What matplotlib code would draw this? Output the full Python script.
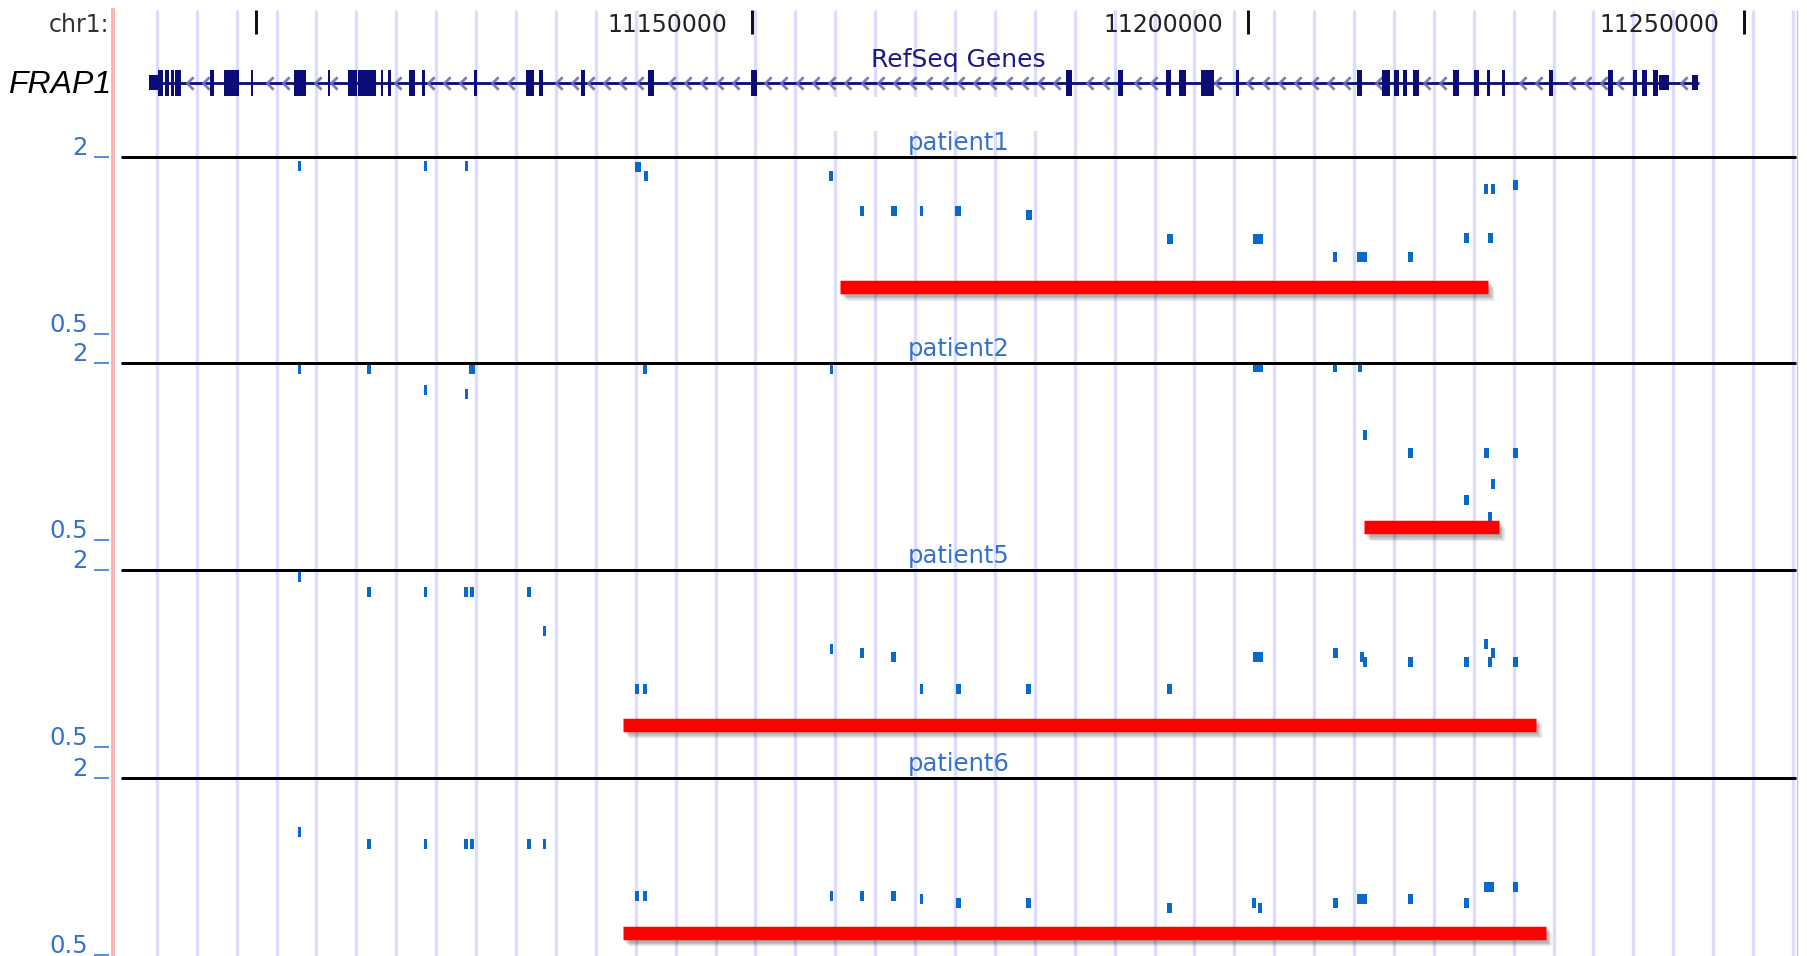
import numpy as np
import matplotlib
matplotlib.use("Agg")
import matplotlib.pyplot as plt
import matplotlib.patheffects as pe
from matplotlib.path import Path
from matplotlib.patches import Rectangle
from matplotlib.transforms import offset_copy

# ---------------- data ----------------
chrom_label = "chr1:"
gene_name = "FRAP1"
gene_track_title = "RefSeq Genes"
tick_positions = [11100000, 11150000, 11200000, 11250000]
tick_labels = ["", "11150000", "11200000", "11250000"]

gene_start, gene_end = 11089164, 11245463
utr_starts = [11089164, 11241481, 11244758]
utr_ends = [11090071, 11242439, 11245362]
exon_starts = [11090121, 11090827, 11091432, 11091785, 11095363, 11096774, 11099446,
               11103831, 11107208, 11109224, 11110282, 11112601, 11113307, 11115424,
               11116734, 11121926, 11127218, 11128528, 11132712, 11139466, 11149899,
               11181703, 11186895, 11191784, 11193044, 11195262, 11198790, 11211038,
               11213558, 11214717, 11215675, 11216683, 11220615, 11222732, 11224143,
               11225655, 11230342, 11236340, 11238860, 11239717, 11240826]
exon_ends = [11090625, 11091180, 11091684, 11092440, 11095716, 11098287, 11099698,
             11104990, 11107510, 11110182, 11112147, 11112803, 11113559, 11115978,
             11116986, 11122228, 11128024, 11128932, 11133115, 11140171, 11150454,
             11182258, 11187349, 11192288, 11193750, 11196572, 11199093, 11211542,
             11214314, 11215272, 11216028, 11217288, 11221270, 11223236, 11224445,
             11225957, 11230746, 11236794, 11239213, 11240221, 11241330]

patients = ["patient1", "patient2", "patient5", "patient6"]
y_top_label, y_bottom_label = "2", "0.5"

p1_pos = [11104400, 11117100, 11121200, 11138500, 11139300, 11158000, 11161100, 11164300,
          11167100, 11170800, 11177900, 11192100, 11201000, 11208800, 11211500, 11216400,
          11222000, 11224000, 11224700, 11224400, 11227000]
p1_val = [1.86, 1.86, 1.86, 1.85, 1.72, 1.72, 1.31, 1.31, 1.31, 1.31, 1.27, 1.05, 1.05,
          0.914, 0.914, 0.914, 1.06, 1.56, 1.56, 1.06, 1.60]
p1_len = [350, 350, 350, 600, 350, 400, 350, 600, 350, 600, 600, 600, 1000, 400, 1000,
          500, 500, 400, 400, 500, 500]

p2_pos = [11104400, 11111400, 11121800, 11139200, 11158000, 11201000, 11208800, 11211300,
          11117100, 11121200, 11211800, 11216400, 11224000, 11227000, 11224700, 11222000,
          11224400]
p2_val = [1.91, 1.91, 1.91, 1.91, 1.91, 1.94, 1.94, 1.94, 1.62, 1.57, 1.136, 0.99, 0.99,
          0.99, 0.774, 0.683, 0.60]
p2_len = [350, 350, 600, 350, 350, 1000, 400, 400, 350, 350, 400, 500, 500, 500, 350, 500, 400]

p5_pos = [11104400, 11111400, 11117100, 11121200, 11121800, 11127500, 11129100, 11138400,
          11139200, 11158000, 11161100, 11164300, 11167100, 11170800, 11177900, 11192100,
          11201000, 11208800, 11211500, 11211800, 11216400, 11222000, 11224000, 11224700,
          11224400, 11227000]
p5_val = [1.89, 1.69, 1.69, 1.69, 1.69, 1.69, 1.24, 0.785, 0.785, 1.08, 1.04, 1.01, 0.785,
          0.785, 0.785, 0.785, 1.01, 1.04, 1.01, 0.97, 0.97, 0.97, 1.12, 1.04, 0.97, 0.97]
p5_len = [350, 350, 350, 400, 400, 400, 350, 400, 400, 350, 350, 500, 350, 500, 500, 500,
          1000, 500, 400, 400, 500, 500, 400, 350, 400, 500]

p6_pos = [11104400, 11111400, 11117100, 11121200, 11121800, 11127500, 11129100, 11138400,
          11139200, 11158000, 11161100, 11164300, 11167100, 11170800, 11177900, 11192100,
          11200600, 11201200, 11208800, 11211500, 11216400, 11222000, 11224300, 11227000]
p6_val = [1.31, 1.19, 1.19, 1.19, 1.19, 1.19, 1.19, 0.795, 0.795, 0.795, 0.795, 0.795, 0.774,
          0.754, 0.754, 0.722, 0.754, 0.722, 0.754, 0.774, 0.774, 0.754, 0.853, 0.853]
p6_len = [350, 350, 350, 400, 400, 400, 350, 400, 400, 350, 350, 500, 350, 500, 500, 500,
          400, 400, 500, 1000, 500, 500, 1000, 500]

seg_start = [11158900, 11211700, 11137000, 11137000]
seg_end = [11224200, 11225300, 11229000, 11230000]
seg_level = [0.721, 0.552, 0.596, 0.595]

# ---------------- layout ----------------
W, H, DPI = 1808, 956, 100
PT = 72.0 / DPI
BP_PER_PX = 50000 / 496.0
REF_BP, REF_PX = 11150000, 752


def px2bp(px):
    return REF_BP + (px - REF_PX) * BP_PER_PX


XMIN, XMAX = px2bp(0), px2bp(W)
UCSC_FONT = "DejaVu Sans"
BLUE_TXT = "#3572cf"
MARK = "#0a68cc"
NAVY = "#0c0c78"

fig = plt.figure(figsize=(W / DPI, H / DPI), dpi=DPI)
bg = fig.add_axes([0, 0, 1, 1])
bg.set_xlim(XMIN, XMAX)
bg.set_ylim(H, 0)
bg.axis("off")

# vertical grid
grid_bp = 11090000 + 4023 * np.arange(42)
bg.vlines(grid_bp, 10, H, color="#dcdcff", lw=3.4 * PT, zorder=1)
bg.add_patch(Rectangle((px2bp(805), 97), px2bp(1048) - px2bp(805), 34,
                       facecolor="white", edgecolor="none", zorder=1.5))
# pink left line and right border
bg.vlines(px2bp(113), 8, H, color="#ffb6b6", lw=4 * PT, zorder=2)
bg.vlines(px2bp(1797), 10, H, color="#c4c4c4", lw=1.2 * PT, zorder=2)

# ruler
bg.vlines(tick_positions, 10, 34, color="#111111", lw=3 * PT, zorder=3)
for tp, tl in zip(tick_positions, tick_labels):
    if tl:
        bg.text(tp - 25 * BP_PER_PX, 32, tl, ha="right", va="baseline",
                fontsize=17, family=UCSC_FONT, color="#222222", zorder=4)
bg.text(px2bp(109), 32, chrom_label, ha="right", va="baseline", fontsize=17,
        family=UCSC_FONT, color="#333333", zorder=4)

# gene track
GENE_Y = 82.5
bg.text(px2bp(958), 67, gene_track_title, ha="center", va="baseline", fontsize=18,
        family=UCSC_FONT, color="#1a1a8a", zorder=4)
bg.text(px2bp(8), 93, gene_name, ha="left", va="baseline", fontsize=23,
        family="Liberation Sans", style="italic", color="black", zorder=4)
bg.hlines(GENE_Y, gene_start, gene_end, color=NAVY, lw=2.8 * PT, zorder=2.2)
chev = Path([(0.5, 1.0), (-0.5, 0.0), (0.5, -1.0)], [Path.MOVETO, Path.LINETO, Path.LINETO])
ex_s = np.array(exon_starts + utr_starts)
ex_e = np.array(exon_ends + utr_ends)
cands = np.arange(gene_start + 900, gene_end - 300, 1620)
keep = [c for c in cands if not np.any((c > ex_s - 350) & (c < ex_e + 350))]
bg.plot(keep, [GENE_Y] * len(keep), ls="none", marker=chev, markersize=9,
        mfc="none", mec="#7070b0", mew=2.0, alpha=0.9, zorder=2.5)
es, ee = np.array(exon_starts), np.array(exon_ends)
bg.bar(es, 26, width=ee - es, bottom=GENE_Y - 13, align="edge", color=NAVY,
       linewidth=0, zorder=3)
us, ue = np.array(utr_starts), np.array(utr_ends)
bg.bar(us, 15, width=ue - us, bottom=GENE_Y - 7.5, align="edge", color=NAVY,
       linewidth=0, zorder=3)

# patient tracks
track_tops = [157, 363, 570, 778]
TRACK_H = 177
all_pos = [p1_pos, p2_pos, p5_pos, p6_pos]
all_val = [p1_val, p2_val, p5_val, p6_val]
all_len = [p1_len, p2_len, p5_len, p6_len]
half = 5.0 / TRACK_H * 2.0  # half marker height in log2 units (5 px)

for i, name in enumerate(patients):
    top = track_tops[i]
    ax = fig.add_axes([0, 1 - (top + TRACK_H) / H, 1, TRACK_H / H])
    ax.set_xlim(XMIN, XMAX)
    ax.set_yscale("log", base=2)
    ax.set_ylim(0.5, 2)
    ax.axis("off")
    ax.patch.set_alpha(0)

    v = np.array(all_val[i])
    ax.bar(all_pos[i], v * (2 ** half - 2 ** -half), width=all_len[i],
           bottom=v * 2 ** -half, color=MARK, linewidth=0, clip_on=False, zorder=3)

    # red segment with soft shadow
    ax.plot([seg_start[i], seg_end[i]], [seg_level[i]] * 2, color="#ff0000",
            lw=13.5 * PT, solid_capstyle="butt", clip_on=False, zorder=4,
            path_effects=[pe.SimpleLineShadow(offset=(1.5, -2.0), shadow_color="#000000", alpha=0.10),
                          pe.SimpleLineShadow(offset=(2.5, -3.0), shadow_color="#000000", alpha=0.10),
                          pe.SimpleLineShadow(offset=(3.5, -4.0), shadow_color="#000000", alpha=0.08),
                          pe.SimpleLineShadow(offset=(4.5, -4.5), shadow_color="#000000", alpha=0.05),
                          pe.Normal()])

    ax.hlines(2, px2bp(121), px2bp(1796), color="black", lw=3 * PT, clip_on=False, zorder=5)
    up2 = offset_copy(ax.transData, fig=fig, x=0, y=2, units="dots")
    up7 = offset_copy(ax.transData, fig=fig, x=0, y=7, units="dots")
    ax.text(px2bp(959), 2, name, transform=up7, ha="center", va="baseline",
            fontsize=17.5, family=UCSC_FONT, color=BLUE_TXT, clip_on=False)
    for lvl, lab in ((2, y_top_label), (0.5, y_bottom_label)):
        ax.text(px2bp(88), lvl, lab, transform=up2, ha="right", va="baseline",
                fontsize=17.5, family=UCSC_FONT, color=BLUE_TXT, clip_on=False)
        ax.hlines(lvl, px2bp(94), px2bp(109), color=BLUE_TXT, lw=1.6 * PT, clip_on=False)

fig.savefig("out.png", dpi=DPI, facecolor="white")
